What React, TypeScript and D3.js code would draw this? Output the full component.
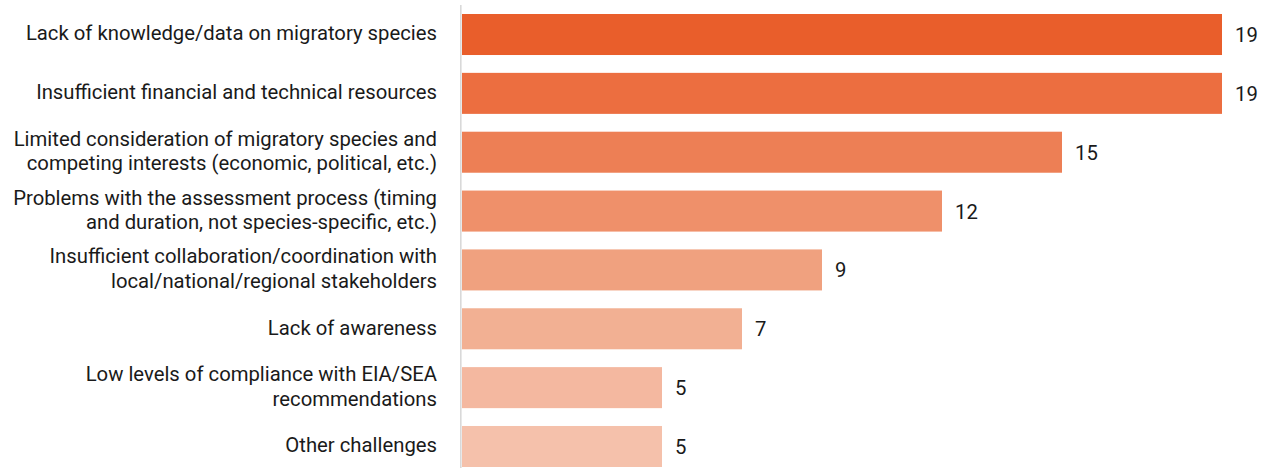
import React from "react";
import * as d3 from "d3";

const categories: string[][] = [
  ["Lack of knowledge/data on migratory species"],
  ["Insufficient financial and technical resources"],
  ["Limited consideration of migratory species and", "competing interests (economic, political, etc.)"],
  ["Problems with the assessment process (timing", "and duration, not species-specific, etc.)"],
  ["Insufficient collaboration/coordination with", "local/national/regional stakeholders"],
  ["Lack of awareness"],
  ["Low levels of compliance with EIA/SEA", "recommendations"],
  ["Other challenges"],
];
const values: number[] = [19, 19, 15, 12, 9, 7, 5, 5];
const colors: string[] = ["#E95E2B", "#EC6E40", "#ED7F55", "#EF906A", "#F0A17F", "#F2B093", "#F4B8A0", "#F5C1AB"];

const W = 1271;
const H = 468;

export default function App() {
  const keys = categories.map((c, i) => String(i));
  const y = d3.scaleBand<string>().domain(keys).range([14, 467]).paddingInner(0.303).paddingOuter(0);
  const x = d3.scaleLinear().domain([0, 19]).range([462, 1222]);
  const font = "Roboto, 'Noto Sans', sans-serif";
  const lh = 24.5;
  const fs = 20.3;
  return (
    <div style={{ position: "absolute", left: 0, top: 0 }}>
      <svg width={W} height={H} style={{ display: "block" }}>
        <rect width={W} height={H} fill="#fff" />
        <line x1={460.8} x2={460.8} y1={5} y2={H} stroke="#d9d9d9" strokeWidth={1.6} />
        {keys.map((k, i) => {
          const by = y(k)!;
          const bh = y.bandwidth();
          const cy = by + bh / 2;
          const lines = categories[i];
          return (
            <g key={k}>
              <rect x={x(0)} y={by} width={x(values[i]) - x(0)} height={bh} fill={colors[i]} />
              <text x={x(values[i]) + 13} y={cy + 7.5} fontFamily={font} fontSize={fs} fill="#1a1a1a">
                {values[i]}
              </text>
              {lines.map((ln, j) => (
                <text
                  key={j}
                  x={437}
                  y={cy + (j - (lines.length - 1) / 2) * lh + 5.8}
                  textAnchor="end"
                  fontFamily={font}
                  fontSize={fs}
                  fill="#1a1a1a"
                >
                  {ln}
                </text>
              ))}
            </g>
          );
        })}
      </svg>
    </div>
  );
}
